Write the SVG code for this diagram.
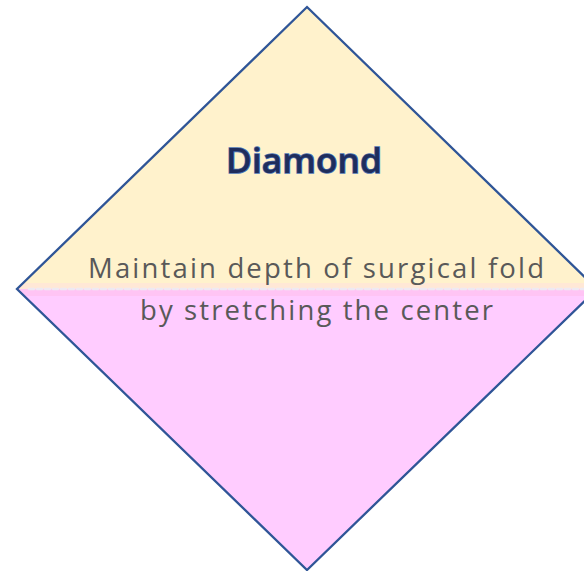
<svg xmlns="http://www.w3.org/2000/svg" width="584" height="571" viewBox="0 0 584 571">
<defs>
<clipPath id="dclip"><polygon points="307,7 597,289 307,570 17,289"/></clipPath>
<style>
.body{font-family:"Open Sans","Liberation Sans",sans-serif;font-size:27.5px;fill:#595959;letter-spacing:1px}
.title{font-family:"Open Sans","Liberation Sans",sans-serif;font-size:35px;font-weight:600;fill:#1F2D5C;stroke:#4A72B5;stroke-width:1.6px;paint-order:stroke}
</style>
</defs>
<rect width="584" height="571" fill="#FFFFFF"/>
<g id="diamond">
<g clip-path="url(#dclip)">
<rect x="0" y="0" width="600" height="289" fill="#FFF2CC"/>
<rect x="0" y="283" width="600" height="6" fill="#FFE8D6"/>
<rect x="0" y="289" width="600" height="290" fill="#FFCCFF"/>
<rect x="0" y="289" width="600" height="7" fill="#FFC4F4"/>
<line x1="29" y1="289" x2="600" y2="289" stroke="#EEE9F2" stroke-width="2.5" stroke-dasharray="5,3" stroke-linecap="round"/>
</g>
<polygon points="307,7 597,289 307,570 17,289" fill="none" stroke="#2F5597" stroke-width="2.3"/>
<text class="title" x="304" y="173" text-anchor="middle" textLength="156" lengthAdjust="spacingAndGlyphs">Diamond</text>
<text class="body" x="316.5" y="278" text-anchor="middle" textLength="457">Maintain depth of surgical fold</text>
<text class="body" x="317" y="320" text-anchor="middle" textLength="354">by stretching the center</text>
</g>
</svg>
